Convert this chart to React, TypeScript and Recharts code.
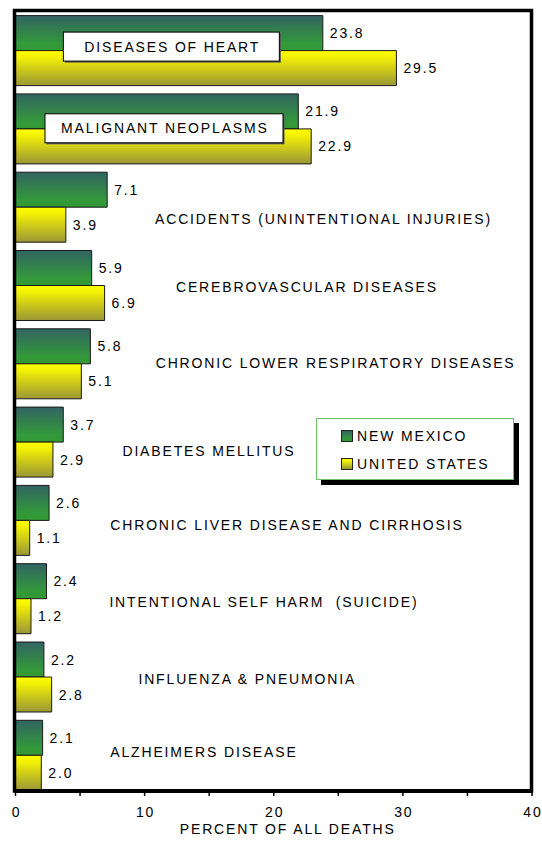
import React from 'react';
import { BarChart, Bar, XAxis, YAxis, LabelList, Legend } from 'recharts';

const categories = [
  'DISEASES OF HEART',
  'MALIGNANT NEOPLASMS',
  'ACCIDENTS (UNINTENTIONAL INJURIES)',
  'CEREBROVASCULAR DISEASES',
  'CHRONIC LOWER RESPIRATORY DISEASES',
  'DIABETES MELLITUS',
  'CHRONIC LIVER DISEASE AND CIRRHOSIS',
  'INTENTIONAL SELF HARM  (SUICIDE)',
  'INFLUENZA & PNEUMONIA',
  'ALZHEIMERS DISEASE',
];
const newMexico = [23.8, 21.9, 7.1, 5.9, 5.8, 3.7, 2.6, 2.4, 2.2, 2.1];
const unitedStates = [29.5, 22.9, 3.9, 6.9, 5.1, 2.9, 1.1, 1.2, 2.8, 2.0];
const seriesNames = ['NEW MEXICO', 'UNITED STATES'];
const xTicks = [0, 5, 10, 15, 20, 25, 30, 35, 40];
const axisTitle = 'PERCENT OF ALL DEATHS';

// category label annotation: centre (in axis units), vertical shift (px), boxed width (px, 0 = no box)
const labelCenter = [12.07, 11.5, 23.78, 22.5, 24.72, 14.91, 20.95, 19.17, 17.88, 14.52];
const labelShift = [-4, -0.6, 12, 1.6, -1.2, 9, 5, 3, 2, -3];
const labelBox = [216, 238, 0, 0, 0, 0, 0, 0, 0, 0];

const data = categories.map((name, i) => ({ name, nm: newMexico[i], us: unitedStates[i] }));

const FONT = '"Liberation Sans", Arial, sans-serif';
const FS = 14;
const LS = 1.85;

const ValueLabel = (props: any) => {
  const { x, y, width, height, value } = props;
  return (
    <text
      x={Number(x) + Number(width) + 7}
      y={Number(y) + Number(height) / 2}
      dy="0.36em"
      fontFamily={FONT}
      fontSize={FS}
      letterSpacing={LS}
      fill="#000"
    >
      {Number(value).toFixed(1)}
    </text>
  );
};

const CategoryLabel = (props: any) => {
  const { x, y, width, value, index } = props;
  const pxPerUnit = Number(width) / Number(value);
  const cx = Number(x) + labelCenter[index] * pxPerUnit;
  const cy = Number(y) + labelShift[index];
  const bw = labelBox[index];
  return (
    <g>
      {bw > 0 && (
        <>
          <rect x={cx - bw / 2 + 1.5} y={cy - 14.5 + 1.5} width={bw} height={29} fill="#555" />
          <rect x={cx - bw / 2} y={cy - 14.5} width={bw} height={29} fill="#fff" stroke="#000" strokeWidth={1} />
        </>
      )}
      <text
        x={cx + LS / 2}
        y={cy}
        dy="0.36em"
        textAnchor="middle"
        fontFamily={FONT}
        fontSize={FS}
        letterSpacing={LS}
        fill="#000"
        style={{ whiteSpace: 'pre' }}
      >
        {categories[index]}
      </text>
    </g>
  );
};

const AxisTick = (props: any) => {
  const { x, y, payload } = props;
  if (payload.value % 10 !== 0) return <g />;
  return (
    <text x={Number(x) + 1} y={y} dy={19} textAnchor="middle" fontFamily={FONT} fontSize={FS} letterSpacing={LS} fill="#000">
      {payload.value}
    </text>
  );
};

const AxisTitle = (props: any) => {
  const { viewBox } = props;
  const cx = viewBox.x + viewBox.width / 2 + 14;
  return (
    <text x={cx} y={834} textAnchor="middle" fontFamily={FONT} fontSize={FS} letterSpacing={LS} fill="#000">
      {axisTitle}
    </text>
  );
};

const swatch = [
  'linear-gradient(to bottom, #326462 0%, #33993a 80%, #339933 100%)',
  'linear-gradient(to bottom, #ffff00 0%, #f2ef06 20%, #9a9636 100%)',
];

const LegendBox = (props: any) => {
  const payload = props.payload || [];
  return (
    <div
      style={{
        position: 'relative',
        width: 196,
        height: 60,
        background: '#fff',
        border: '1px solid #6cc06c',
        boxShadow: '5px 5px 0 #000',
        fontFamily: FONT,
        fontSize: FS,
        letterSpacing: LS,
        color: '#000',
      }}
    >
      {payload.map((p: any, i: number) => (
        <div key={i} style={{ position: 'absolute', left: 24, top: 10 + i * 27.5, height: 14, display: 'flex', alignItems: 'center' }}>
          <div style={{ width: 10, height: 10, border: '1px solid #222', background: swatch[i], marginRight: 4 }} />
          <span style={{ lineHeight: '14px' }}>{p.value}</span>
        </div>
      ))}
    </div>
  );
};

export default function App() {
  return (
    <div style={{ position: 'absolute', left: 0, top: 0, width: 542, height: 841, background: '#fff' }}>
      <BarChart
        width={542}
        height={841}
        data={data}
        layout="vertical"
        margin={{ top: 10, right: 10, bottom: 20, left: 15.5 }}
        barCategoryGap={3.85}
        barGap={0}
      >
        <defs>
          <linearGradient id="gNM" x1="0" y1="0" x2="0" y2="1">
            <stop offset="0%" stopColor="#326462" />
            <stop offset="80%" stopColor="#33993a" />
            <stop offset="100%" stopColor="#339933" />
          </linearGradient>
          <linearGradient id="gUS" x1="0" y1="0" x2="0" y2="1">
            <stop offset="0%" stopColor="#ffff00" />
            <stop offset="20%" stopColor="#f2ef06" />
            <stop offset="100%" stopColor="#9a9636" />
          </linearGradient>
        </defs>
        <XAxis
          type="number"
          domain={[0, 40]}
          ticks={xTicks}
          interval={0}
          tick={<AxisTick />}
          tickSize={5}
          height={30}
          tickLine={{ stroke: '#000', strokeWidth: 1.5 }}
          axisLine={{ stroke: '#000', strokeWidth: 4 }}
          label={{ content: <AxisTitle /> }}
        />
        <YAxis type="category" dataKey="name" hide padding={{ top: 1.75, bottom: -3.75 }} />
        <Legend
          layout="horizontal"
          verticalAlign="middle"
          align="center"
          content={<LegendBox />}
          wrapperStyle={{ position: 'absolute', left: 316, top: 418, width: 202, height: 66 }}
        />
        <Bar dataKey="nm" name={seriesNames[0]} fill="url(#gNM)" stroke="#1a1a1a" strokeWidth={1} isAnimationActive={false}>
          <LabelList dataKey="nm" content={<ValueLabel />} />
        </Bar>
        <Bar dataKey="us" name={seriesNames[1]} fill="url(#gUS)" stroke="#1a1a1a" strokeWidth={1} isAnimationActive={false}>
          <LabelList dataKey="us" content={<ValueLabel />} />
          <LabelList dataKey="us" content={<CategoryLabel />} />
        </Bar>
      </BarChart>
      <svg width={542} height={841} style={{ position: 'absolute', left: 0, top: 0, pointerEvents: 'none' }}>
        <rect x={14.5} y={10.5} width={517} height={780.5} fill="none" stroke="#000" strokeWidth={3.5} />
      </svg>
    </div>
  );
}
